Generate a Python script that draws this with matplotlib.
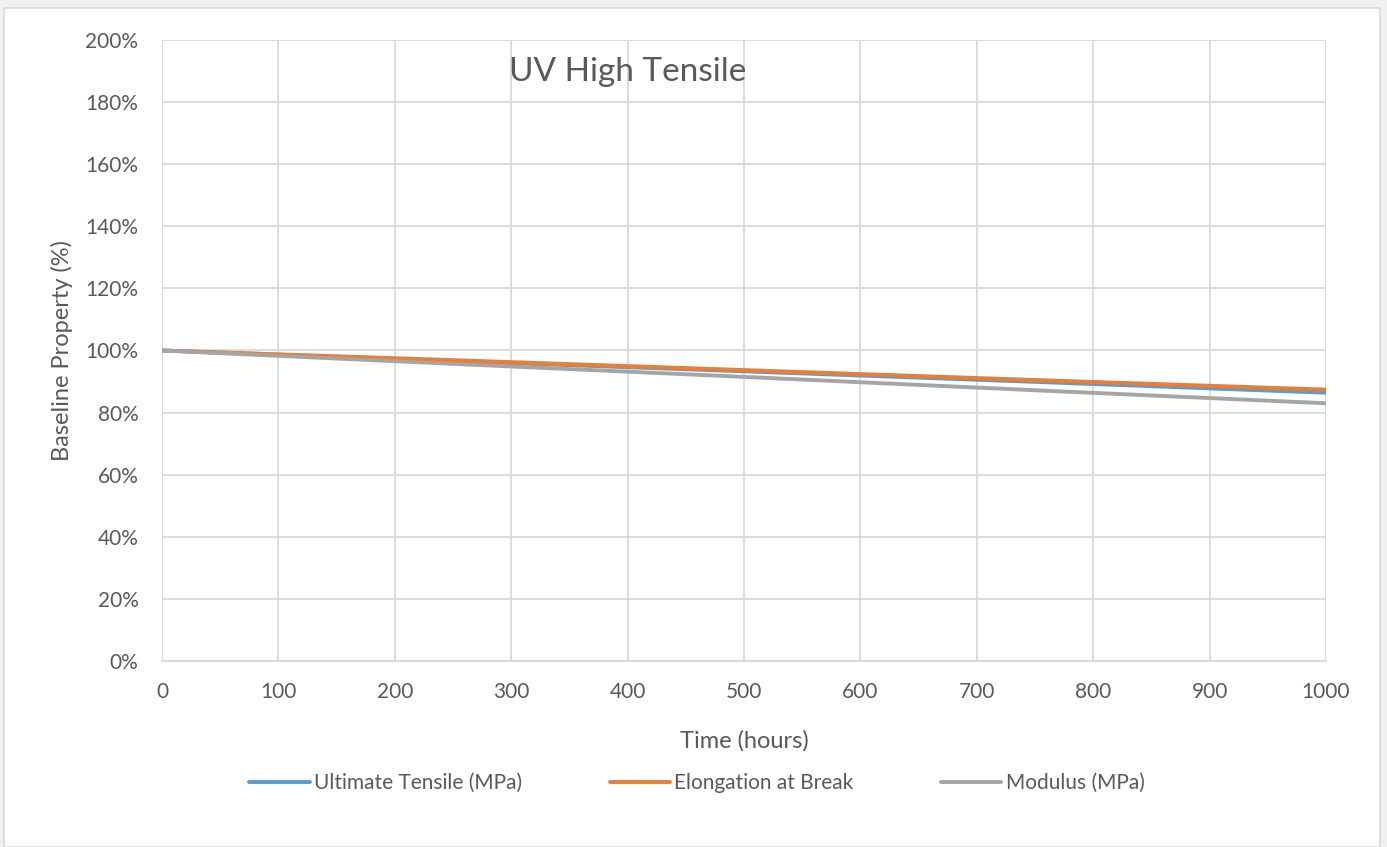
import matplotlib.pyplot as plt
from matplotlib.patches import Rectangle
from matplotlib.ticker import FuncFormatter

# values (percent of baseline)
hours = [0, 250, 500, 750, 1000]
ultimate_tensile = [100, 96.6, 93.3, 89.9, 86.4]
elongation = [100, 96.9, 93.7, 90.5, 87.4]
modulus = [100, 95.7, 91.5, 87.2, 83.0]

series_names = ["Ultimate Tensile (MPa)", "Elongation at Break", "Modulus (MPa)"]
colors = ["#5b9bd5", "#ed7d31", "#a5a5a5"]

plt.rcParams['font.family'] = ['Lato', 'DejaVu Sans']

fig = plt.figure(figsize=(13.87, 8.47), dpi=100)
fig.patch.set_facecolor("#f0f0f0")
# white chart area with thin border
fig.patches.append(Rectangle((4 / 1387, 0), 1376 / 1387, 1 - 8 / 847,
                             transform=fig.transFigure, facecolor="white",
                             edgecolor="#d9d9d9", lw=1.2, zorder=-5))

ax = fig.add_axes([162 / 1387, 186 / 847, 1164 / 1387, 621 / 847])
ax.set_zorder(2)
ax.set_facecolor("white")

for vals, name, c in zip([ultimate_tensile, elongation, modulus], series_names, colors):
    ax.plot(hours, vals, color=c, lw=2.8, label=name, solid_capstyle="round")

ax.set_xlim(0, 1000)
ax.set_ylim(0, 200)
ax.set_xticks(range(0, 1001, 100))
ax.set_yticks(range(0, 201, 20))
ax.yaxis.set_major_formatter(FuncFormatter(lambda v, p: f"{int(v)}%"))
ax.grid(True, color="#d9d9d9", lw=1.3)
ax.set_axisbelow(True)
for s in ["top", "right", "left"]:
    ax.spines[s].set_visible(False)
ax.spines["bottom"].set_color("#d9d9d9")
ax.spines["bottom"].set_linewidth(1.3)
ax.tick_params(length=0, labelsize=15, colors="#595959")
ax.tick_params(axis="y", pad=17)
ax.tick_params(axis="x", pad=15)

ax.set_xlabel("Time (hours)", fontsize=17, color="#595959", labelpad=20)
ax.set_ylabel("Baseline Property (%)", fontsize=17, color="#595959", labelpad=9)

fig.text(628 / 1387, 1 - 72 / 847, "UV High Tensile", fontsize=24, color="#595959",
         ha="center", va="center")

fig.legend(loc="center", bbox_to_anchor=(697 / 1387, 1 - 783 / 847), ncol=3,
           frameon=False, fontsize=15, labelcolor="#595959", handlelength=2.9,
           handletextpad=0.2, columnspacing=4.2)

fig.savefig("out.png", dpi=100, facecolor=fig.get_facecolor())
